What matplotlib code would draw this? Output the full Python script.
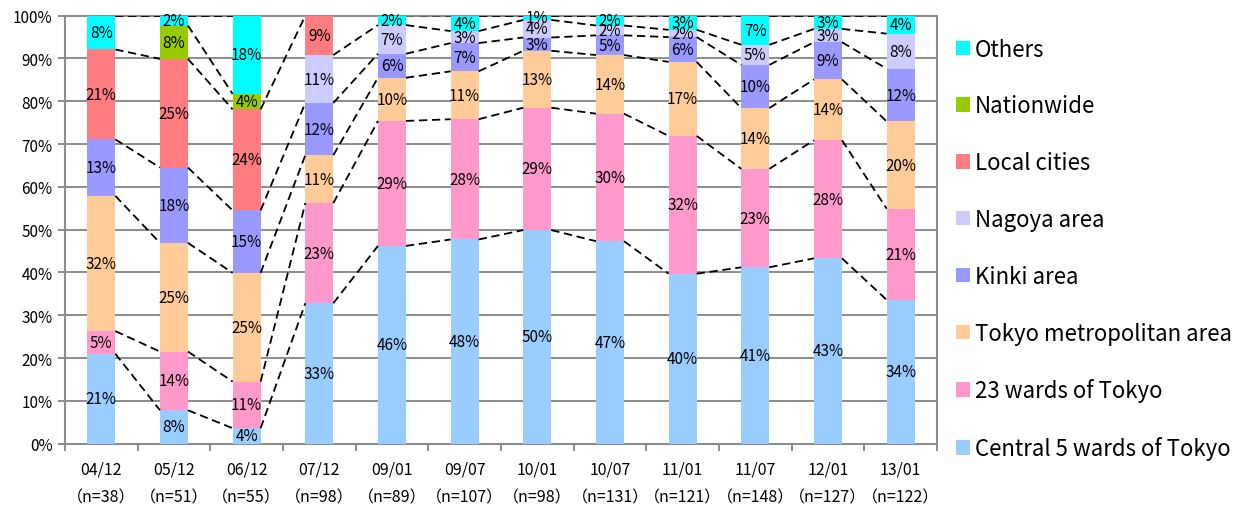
import matplotlib
matplotlib.use("Agg")
import matplotlib.pyplot as plt
import numpy as np

plt.rcParams['font.family'] = ['Noto Sans CJK JP', 'DejaVu Sans']

periods = ["04/12", "05/12", "06/12", "07/12", "09/01", "09/07",
           "10/01", "10/07", "11/01", "11/07", "12/01", "13/01"]
sample_sizes = [38, 51, 55, 98, 89, 107, 98, 131, 121, 148, 127, 122]

# Share of each area (%), stacked from the bottom up
central5 = [21.0, 7.8, 3.6, 32.8, 46.2, 47.7, 49.9, 47.3, 39.7, 41.2, 43.3, 33.6]
wards23 = [5.3, 13.7, 10.9, 23.4, 29.2, 28.1, 28.6, 29.8, 32.2, 23.0, 27.6, 21.3]
tokyo_metro = [31.6, 25.4, 25.4, 11.2, 10.1, 11.2, 13.3, 13.7, 17.3, 14.2, 14.2, 20.4]
kinki = [13.2, 17.6, 14.6, 12.2, 5.6, 6.6, 3.1, 4.6, 5.8, 10.1, 8.7, 12.3]
nagoya = [0, 0, 0, 11.2, 6.7, 2.8, 4.1, 2.3, 1.7, 4.7, 3.1, 8.2]
local_cities = [21.0, 25.4, 23.6, 9.2, 0, 0, 0, 0, 0, 0, 0, 0]
nationwide = [0, 7.8, 3.6, 0, 0, 0, 0, 0, 0, 0, 0, 0]
others = [7.9, 2.3, 18.3, 0, 2.3, 3.6, 1.0, 2.3, 3.3, 6.8, 3.1, 4.2]

series = [
    ("Central 5 wards of Tokyo", central5, "#99CCFF"),
    ("23 wards of Tokyo", wards23, "#FF99CC"),
    ("Tokyo metropolitan area", tokyo_metro, "#FFCC99"),
    ("Kinki area", kinki, "#9999FF"),
    ("Nagoya area", nagoya, "#CCCCFF"),
    ("Local cities", local_cities, "#FF7C80"),
    ("Nationwide", nationwide, "#99CC00"),
    ("Others", others, "#00FFFF"),
]

fig = plt.figure(figsize=(12.47, 5.10), dpi=100)
ax = fig.add_axes([0.0521, 0.1282, 0.6993, 0.8391])

x = np.arange(len(periods))
width = 0.385
bottom = np.zeros(len(periods))
handles = []
tops = []
for name, vals, color in series:
    vals = np.asarray(vals, dtype=float)
    bars = ax.bar(x, vals, width, bottom=bottom, color=color, label=name,
                  zorder=3, linewidth=0)
    handles.append(bars)
    for xi, v, b in zip(x, vals, bottom):
        if v > 0:
            ax.text(xi, b + v / 2, f"{int(np.floor(v + 0.5))}%", ha="center",
                    va="center", fontsize=11, color="black", zorder=5)
    top = bottom + vals
    tops.append((vals, top.copy()))
    bottom = top

# Dashed series lines joining the top of each segment between neighbouring bars
for vals, top in tops:
    for i in range(len(periods) - 1):
        if vals[i] > 0 and vals[i + 1] > 0:
            ax.plot([x[i] + width / 2, x[i + 1] - width / 2],
                    [top[i], top[i + 1]], color="black", lw=1.3,
                    dashes=(4.6, 2.6), zorder=4)

ax.set_xlim(-0.5, len(periods) - 0.5)
ax.set_ylim(0, 100)
ax.set_yticks(np.arange(0, 101, 10))
ax.set_yticklabels([f"{v}%" for v in range(0, 101, 10)], fontsize=11)
ax.yaxis.grid(True, color="#8C8C8C", lw=1.4, zorder=0)
ax.set_axisbelow(True)

ax.set_xticks(x)
ax.set_xticklabels([f"{p}\n（n={n}）" for p, n in zip(periods, sample_sizes)],
                   fontsize=11.5, linespacing=1.85)
ax.tick_params(axis="x", which="major", length=0, pad=12)
ax.set_xticks(np.arange(-0.5, len(periods), 1.0), minor=True)
ax.tick_params(axis="x", which="minor", length=5, color="#8C8C8C", width=1.4,
               direction="out")
ax.tick_params(axis="y", length=5, color="#8C8C8C", width=1.4, pad=4)

for sp in ax.spines.values():
    sp.set_color("#8C8C8C")
    sp.set_linewidth(1.5)

leg = ax.legend(handles[::-1], [s[0] for s in series][::-1],
                loc="center left", bbox_to_anchor=(1.012, 0.455), frameon=False,
                fontsize=16, handlelength=0.62, handleheight=0.62,
                handletextpad=0.2, labelspacing=1.52, borderaxespad=0)

fig.savefig("out.png", dpi=100)
